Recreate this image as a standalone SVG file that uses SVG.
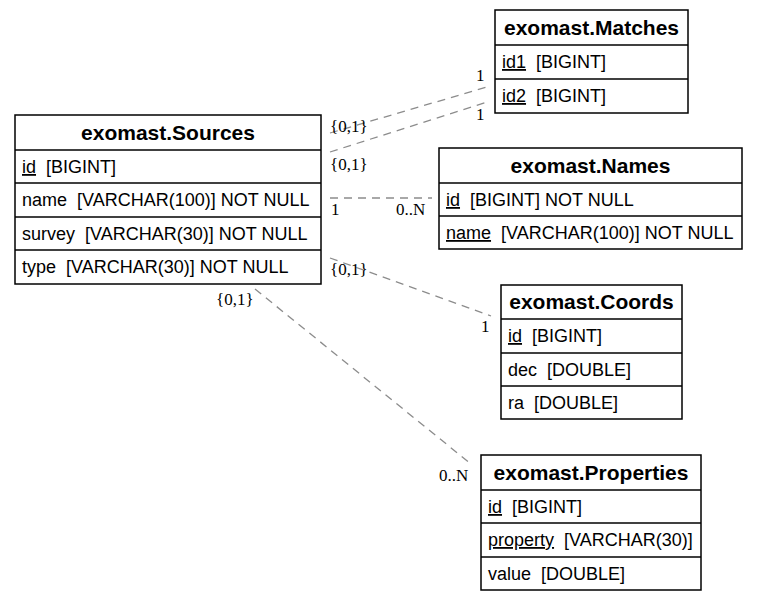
<svg xmlns="http://www.w3.org/2000/svg" width="759" height="601" viewBox="0 0 759 601">
<style>
.box{fill:#fff;stroke:#000;stroke-width:1.5}
.sep{stroke:#000;stroke-width:1.5}
.hdr{font-family:"Liberation Sans",Arial,sans-serif;font-weight:bold;font-size:21px;text-anchor:middle;fill:#000}
.row{font-family:"Liberation Sans",Arial,sans-serif;font-size:18px;fill:#000}
.u{text-decoration:underline}
.edge{stroke:#8c8c8c;stroke-width:1.3;stroke-dasharray:8,6;fill:none}
.lbl{font-family:"Liberation Serif","Times New Roman",serif;font-size:17px;fill:#000}
</style>
<rect width="759" height="601" fill="#fff"/>
<g id="connectors">
<line class="edge" x1="330" y1="133" x2="487" y2="87"/>
<line class="edge" x1="330" y1="152" x2="487" y2="102"/>
<line class="edge" x1="330" y1="198" x2="432" y2="198"/>
<line class="edge" x1="330" y1="258" x2="491" y2="316"/>
<line class="edge" x1="255" y1="289" x2="471" y2="464"/>
<text class="lbl" x="330" y="132">{0,1}</text>
<text class="lbl" x="476" y="81">1</text>
<text class="lbl" x="330" y="170">{0,1}</text>
<text class="lbl" x="476" y="120">1</text>
<text class="lbl" x="331" y="215">1</text>
<text class="lbl" x="396" y="215">0..N</text>
<text class="lbl" x="330" y="275">{0,1}</text>
<text class="lbl" x="481" y="332">1</text>
<text class="lbl" x="216" y="305">{0,1}</text>
<text class="lbl" x="439" y="481">0..N</text>
</g>
<g id="sources">
<rect class="box" x="15" y="115" width="306" height="169"/>
<line class="sep" x1="15" y1="150" x2="321" y2="150"/>
<line class="sep" x1="15" y1="183" x2="321" y2="183"/>
<line class="sep" x1="15" y1="217" x2="321" y2="217"/>
<line class="sep" x1="15" y1="250" x2="321" y2="250"/>
<text class="hdr" x="168" y="140">exomast.Sources</text>
<text class="row" x="22" y="173" xml:space="preserve"><tspan class="u">id</tspan>  [BIGINT]</text>
<text class="row" x="22" y="206" xml:space="preserve">name  [VARCHAR(100)] NOT NULL</text>
<text class="row" x="22" y="240" xml:space="preserve">survey  [VARCHAR(30)] NOT NULL</text>
<text class="row" x="22" y="273" xml:space="preserve">type  [VARCHAR(30)] NOT NULL</text>
</g>
<g id="matches">
<rect class="box" x="495" y="10" width="193" height="103"/>
<line class="sep" x1="495" y1="45" x2="688" y2="45"/>
<line class="sep" x1="495" y1="79" x2="688" y2="79"/>
<text class="hdr" x="591.5" y="35">exomast.Matches</text>
<text class="row" x="502" y="68" xml:space="preserve"><tspan class="u">id1</tspan>  [BIGINT]</text>
<text class="row" x="502" y="102" xml:space="preserve"><tspan class="u">id2</tspan>  [BIGINT]</text>
</g>
<g id="names">
<rect class="box" x="439" y="148" width="303" height="101"/>
<line class="sep" x1="439" y1="183" x2="742" y2="183"/>
<line class="sep" x1="439" y1="216" x2="742" y2="216"/>
<text class="hdr" x="590.5" y="173">exomast.Names</text>
<text class="row" x="446" y="206" xml:space="preserve"><tspan class="u">id</tspan>  [BIGINT] NOT NULL</text>
<text class="row" x="446" y="239" xml:space="preserve"><tspan class="u">name</tspan>  [VARCHAR(100)] NOT NULL</text>
</g>
<g id="coords">
<rect class="box" x="501" y="285" width="181" height="134"/>
<line class="sep" x1="501" y1="319" x2="682" y2="319"/>
<line class="sep" x1="501" y1="353" x2="682" y2="353"/>
<line class="sep" x1="501" y1="386" x2="682" y2="386"/>
<text class="hdr" x="591.5" y="309">exomast.Coords</text>
<text class="row" x="508" y="342" xml:space="preserve"><tspan class="u">id</tspan>  [BIGINT]</text>
<text class="row" x="508" y="376" xml:space="preserve">dec  [DOUBLE]</text>
<text class="row" x="508" y="409" xml:space="preserve">ra  [DOUBLE]</text>
</g>
<g id="properties">
<rect class="box" x="481" y="455" width="220" height="135"/>
<line class="sep" x1="481" y1="490" x2="701" y2="490"/>
<line class="sep" x1="481" y1="523" x2="701" y2="523"/>
<line class="sep" x1="481" y1="557" x2="701" y2="557"/>
<text class="hdr" x="591" y="480">exomast.Properties</text>
<text class="row" x="488" y="513" xml:space="preserve"><tspan class="u">id</tspan>  [BIGINT]</text>
<text class="row" x="488" y="546" xml:space="preserve"><tspan class="u">property</tspan>  [VARCHAR(30)]</text>
<text class="row" x="488" y="580" xml:space="preserve">value  [DOUBLE]</text>
</g>
</svg>
